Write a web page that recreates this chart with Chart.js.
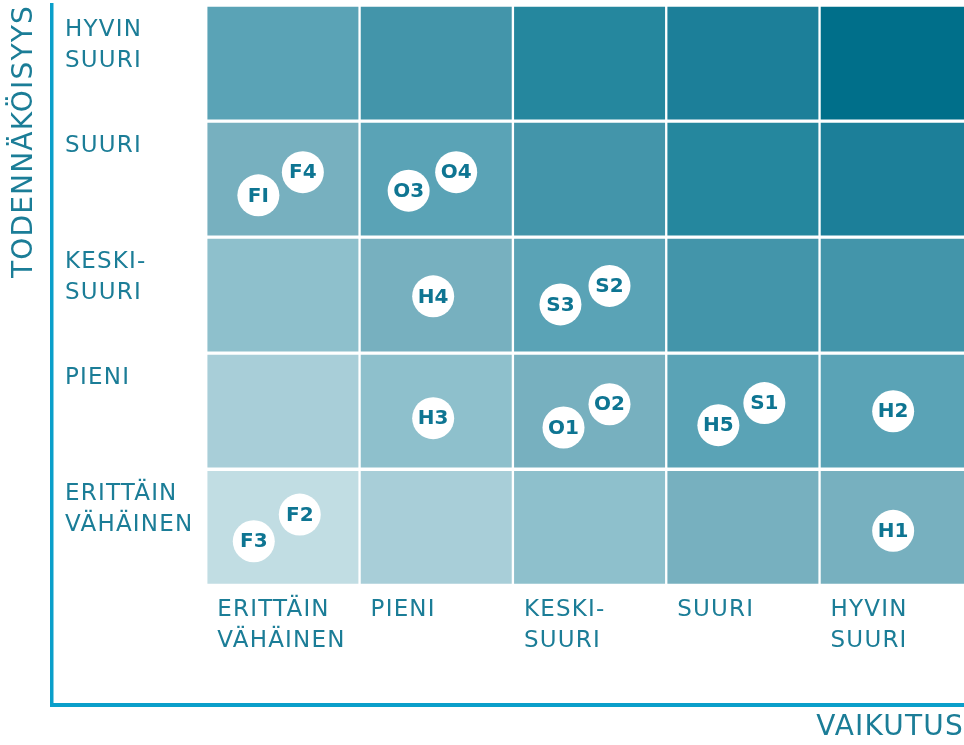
<!DOCTYPE html>
<html>
<head>
<meta charset="utf-8">
<script src="https://cdn.jsdelivr.net/npm/chart.js"></script>
<style>
  body { margin: 0; background: #fff; overflow: hidden; }
  #wrap { width: 964px; height: 745px; position: relative; }
</style>
</head>
<body>
<div id="wrap"><canvas id="riskCanvas"></canvas></div>
<script>
// impact (x) and probability (y) classes, lowest first
var impactLabels = [['ERITTÄIN', 'VÄHÄINEN'], 'PIENI', ['KESKI-', 'SUURI'], 'SUURI', ['HYVIN', 'SUURI']];
var probLabels = [['ERITTÄIN', 'VÄHÄINEN'], ['PIENI', ''], ['KESKI-', 'SUURI'], ['SUURI', ''], ['HYVIN', 'SUURI']];

// risk level of each cell, rows from bottom (probability) and columns (impact)
var riskLevels = [
    [0, 1, 2, 3, 3],
    [1, 2, 3, 4, 4],
    [2, 3, 4, 5, 5],
    [3, 4, 5, 6, 7],
    [4, 5, 6, 7, 8]
];
var levelColors = ['#c1dde3', '#a8ced8', '#8ec0cc', '#77b0bf', '#5aa3b6', '#4395aa', '#25879e', '#1c7f99', '#006f8a'];

// risks placed in the matrix
var riskNames = ['FI', 'F4', 'O3', 'O4', 'H4', 'S3', 'S2', 'H3', 'O1', 'O2', 'H5', 'S1', 'H2', 'H1', 'F2', 'F3'];
var riskImpact = [0.34, 0.63, 1.32, 1.63, 1.48, 2.31, 2.63, 1.48, 2.33, 2.63, 3.34, 3.64, 4.48, 4.48, 0.61, 0.31];
var riskProb = [3.36, 3.56, 3.40, 3.56, 2.49, 2.42, 2.58, 1.44, 1.36, 1.56, 1.38, 1.57, 1.50, 0.47, 0.61, 0.38];

var textColor = '#1b7d97';
var lineColor = '#0a9fca';

var cells = [];
var cellColors = [];
for (var r = 0; r < riskLevels.length; r++) {
    for (var c = 0; c < riskLevels[r].length; c++) {
        cells.push({ x: c + 0.5, y: [r, r + 1] });
        cellColors.push(levelColors[riskLevels[r][c]]);
    }
}

var points = [];
for (var i = 0; i < riskNames.length; i++) {
    points.push({ x: riskImpact[i], y: riskProb[i] });
}

var spacing = {
    id: 'spacing',
    beforeLayout: function (chart) { chart.ctx.letterSpacing = '1.2px'; },
    beforeDraw: function (chart) { chart.ctx.letterSpacing = '1.2px'; }
};

var riskText = {
    id: 'riskText',
    afterDatasetsDraw: function (chart) {
        var ctx = chart.ctx;
        var meta = chart.getDatasetMeta(0);
        ctx.save();
        ctx.letterSpacing = '0px';
        ctx.font = 'bold 20px "DejaVu Sans"';
        ctx.fillStyle = '#0e7592';
        ctx.textAlign = 'center';
        ctx.textBaseline = 'middle';
        meta.data.forEach(function (pt, k) {
            ctx.fillText(riskNames[k], pt.x, pt.y + 1);
        });
        ctx.restore();
    }
};

Chart.defaults.font.family = '"DejaVu Sans"';

new Chart(document.getElementById('riskCanvas'), {
    type: 'bar',
    data: {
        datasets: [
            {
                type: 'scatter',
                label: 'Riskit',
                data: points,
                pointRadius: 21,
                pointHoverRadius: 21,
                pointBackgroundColor: '#ffffff',
                pointBorderWidth: 0
            },
            {
                label: 'Taso',
                data: cells,
                backgroundColor: cellColors,
                borderColor: '#ffffff',
                borderWidth: { top: 2, bottom: 2, left: 1.5, right: 1.5 },
                borderSkipped: false,
                categoryPercentage: 1,
                barPercentage: 1
            }
        ]
    },
    options: {
        responsive: true,
        maintainAspectRatio: false,
        animation: false,
        layout: { autoPadding: false, padding: { top: 5, left: 0, right: 0, bottom: 0 } },
        plugins: { legend: { display: false }, tooltip: { enabled: false } },
        scales: {
            x: {
                type: 'linear',
                position: 'bottom',
                min: -1.006,
                max: 4.942,
                offset: false,
                grid: { display: false, drawTicks: false, offset: false },
                border: { display: true, color: lineColor, width: 4 },
                afterBuildTicks: function (scale) {
                    scale.ticks = impactLabels.map(function (l, k) { return { value: k }; });
                },
                afterFit: function (scale) {
                    scale.height = 40;
                    scale.paddingLeft = 0;
                    scale.paddingRight = 0;
                },
                ticks: {
                    mirror: true,
                    padding: 79.5,
                    align: 'start',
                    labelOffset: 11,
                    autoSkip: false,
                    maxRotation: 0,
                    color: textColor,
                    font: { size: 23, lineHeight: 1.35 },
                    callback: function (v) { return impactLabels[v]; }
                },
                title: {
                    display: true,
                    text: 'VAIKUTUS',
                    align: 'end',
                    color: textColor,
                    font: { size: 28 },
                    padding: { top: 0, bottom: 0 }
                }
            },
            y: {
                type: 'linear',
                position: 'left',
                min: -1.031,
                max: 5,
                grid: { display: false, drawTicks: false },
                border: { display: true, color: lineColor, width: 3.5 },
                afterBuildTicks: function (scale) {
                    scale.ticks = probLabels.map(function (l, k) { return { value: k + 1 }; });
                },
                afterFit: function (scale) {
                    scale.width = 52;
                    scale.paddingTop = 0;
                    scale.paddingBottom = 0;
                },
                ticks: {
                    mirror: true,
                    padding: 13,
                    labelOffset: 40.5,
                    autoSkip: false,
                    color: textColor,
                    font: { size: 23, lineHeight: 1.35 },
                    callback: function (v) { return probLabels[v - 1]; }
                },
                title: {
                    display: true,
                    text: 'TODENNÄKÖISYYS',
                    align: 'end',
                    color: textColor,
                    font: { size: 28 },
                    padding: { top: 8, bottom: 0 }
                }
            }
        }
    },
    plugins: [spacing, riskText]
});
</script>
</body>
</html>
